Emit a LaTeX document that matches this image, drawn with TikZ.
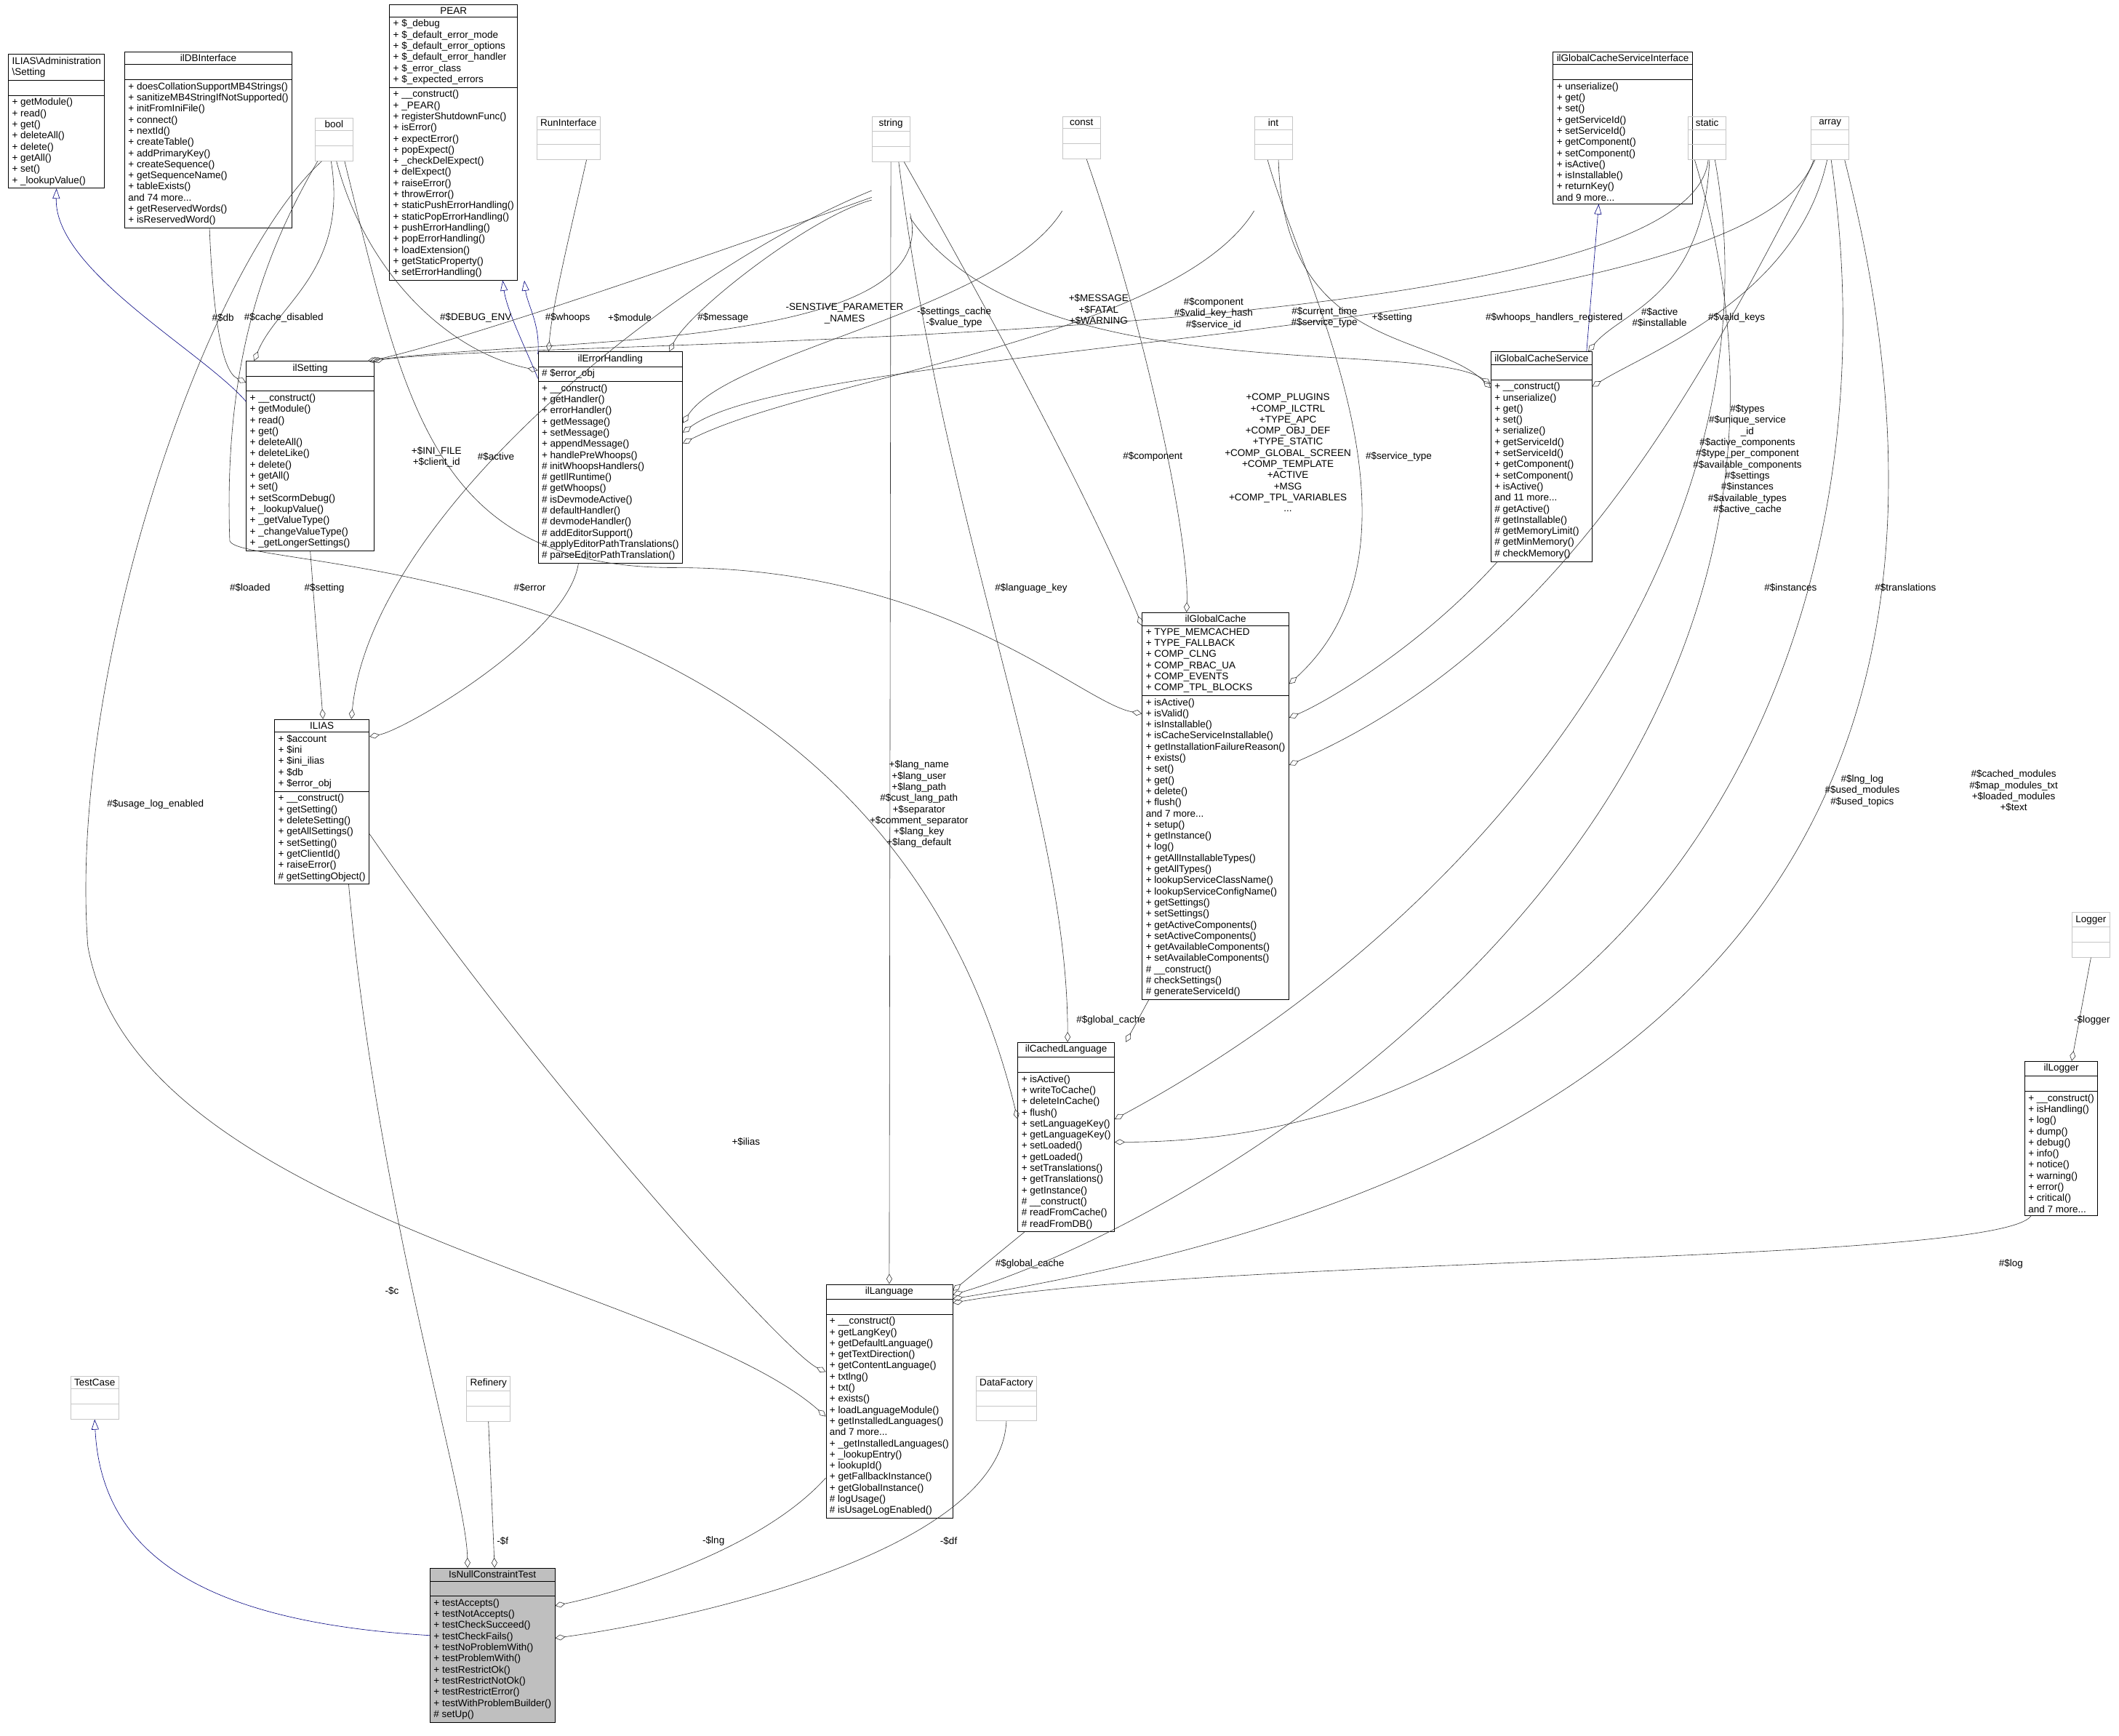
\documentclass[tikz,border=0pt]{standalone}
\usepackage{fontspec}
\setmainfont{Liberation Sans}
\usetikzlibrary{shapes.multipart,arrows.meta,calc}
\begin{document}
\begin{tikzpicture}[x=1.8584pt,y=-1.8584pt,
 cls/.style={draw=black,rectangle split,rectangle split parts=3,rectangle split part align={center,left,left},
   align=left,inner xsep=5pt,inner ysep=3.5pt,font=\fontsize{13.5}{15.3}\selectfont,anchor=north west,
   rectangle split empty part height=13pt,line width=0.8pt},
 gcls/.style={cls,draw=gray!45,minimum width=52pt},
 agg/.style={draw=black!80,line width=0.6pt,-{Diamond[open,length=14pt,width=8pt]}},
 inh/.style={draw=blue!50!black,line width=0.6pt,-{Triangle[open,length=14pt,width=10pt]}},
 lbl/.style={font=\fontsize{13.5}{15.3}\selectfont,align=center,inner sep=1pt}]
\useasboundingbox (0,0) rectangle (1568,1284.4);
\fill[white] (0,0) rectangle (1568,1284.4);
% ---- classes
\node[cls] (set) at (6,40) {ILIAS\textbackslash Administration\\\textbackslash Setting\nodepart{two}\nodepart{three}+ getModule()\\+ read()\\+ get()\\+ deleteAll()\\+ delete()\\+ getAll()\\+ set()\\+ \_lookupValue()};
\node[cls] (dbi) at (92,38) {ilDBInterface\nodepart{two}\nodepart{three}+ doesCollationSupportMB4Strings()\\+ sanitizeMB4StringIfNotSupported()\\+ initFromIniFile()\\+ connect()\\+ nextId()\\+ createTable()\\+ addPrimaryKey()\\+ createSequence()\\+ getSequenceName()\\+ tableExists()\\and 74 more...\\+ getReservedWords()\\+ isReservedWord()};
\node[gcls] (bool) at (233,87) {bool\nodepart{two}\nodepart{three}};
\node[cls] (pear) at (288,3) {PEAR\nodepart{two}+ \$\_debug\\+ \$\_default\_error\_mode\\+ \$\_default\_error\_options\\+ \$\_default\_error\_handler\\+ \$\_error\_class\\+ \$\_expected\_errors\nodepart{three}+ \_\_construct()\\+ \_PEAR()\\+ registerShutdownFunc()\\+ isError()\\+ expectError()\\+ popExpect()\\+ \_checkDelExpect()\\+ delExpect()\\+ raiseError()\\+ throwError()\\+ staticPushErrorHandling()\\+ staticPopErrorHandling()\\+ pushErrorHandling()\\+ popErrorHandling()\\+ loadExtension()\\+ getStaticProperty()\\+ setErrorHandling()};
\node[gcls] (run) at (397,86) {RunInterface\nodepart{two}\nodepart{three}};
\node[gcls] (str) at (645,86) {string\nodepart{two}\nodepart{three}};
\node[gcls] (cst) at (786,86) {const\nodepart{two}\nodepart{three}};
\node[gcls] (int) at (928,86) {int\nodepart{two}\nodepart{three}};
\node[cls] (gcsi) at (1149,38) {ilGlobalCacheServiceInterface\nodepart{two}\nodepart{three}+ unserialize()\\+ get()\\+ set()\\+ getServiceId()\\+ setServiceId()\\+ getComponent()\\+ setComponent()\\+ isActive()\\+ isInstallable()\\+ returnKey()\\and 9 more...};
\node[gcls] (stat) at (1249,86) {static\nodepart{two}\nodepart{three}};
\node[gcls] (arr) at (1340,86) {array\nodepart{two}\nodepart{three}};
\node[cls,minimum width=176pt] (ilset) at (182,267) {ilSetting\nodepart{two}\nodepart{three}+ \_\_construct()\\+ getModule()\\+ read()\\+ get()\\+ deleteAll()\\+ deleteLike()\\+ delete()\\+ getAll()\\+ set()\\+ setScormDebug()\\+ \_lookupValue()\\+ \_getValueType()\\+ \_changeValueType()\\+ \_getLongerSettings()};
\node[cls] (eh) at (398,260) {ilErrorHandling\nodepart{two}\# \$error\_obj\nodepart{three}+ \_\_construct()\\+ getHandler()\\+ errorHandler()\\+ getMessage()\\+ setMessage()\\+ appendMessage()\\+ handlePreWhoops()\\\# initWhoopsHandlers()\\\# getIlRuntime()\\\# getWhoops()\\\# isDevmodeActive()\\\# defaultHandler()\\\# devmodeHandler()\\\# addEditorSupport()\\\# applyEditorPathTranslations()\\\# parseEditorPathTranslation()};
\node[cls] (gcs) at (1103,260) {ilGlobalCacheService\nodepart{two}\nodepart{three}+ \_\_construct()\\+ unserialize()\\+ get()\\+ set()\\+ serialize()\\+ getServiceId()\\+ setServiceId()\\+ getComponent()\\+ setComponent()\\+ isActive()\\and 11 more...\\\# getActive()\\\# getInstallable()\\\# getMemoryLimit()\\\# getMinMemory()\\\# checkMemory()};
\node[cls] (gc) at (845,453) {ilGlobalCache\nodepart{two}+ TYPE\_MEMCACHED\\+ TYPE\_FALLBACK\\+ COMP\_CLNG\\+ COMP\_RBAC\_UA\\+ COMP\_EVENTS\\+ COMP\_TPL\_BLOCKS\nodepart{three}+ isActive()\\+ isValid()\\+ isInstallable()\\+ isCacheServiceInstallable()\\+ getInstallationFailureReason()\\+ exists()\\+ set()\\+ get()\\+ delete()\\+ flush()\\and 7 more...\\+ setup()\\+ getInstance()\\+ log()\\+ getAllInstallableTypes()\\+ getAllTypes()\\+ lookupServiceClassName()\\+ lookupServiceConfigName()\\+ getSettings()\\+ setSettings()\\+ getActiveComponents()\\+ setActiveComponents()\\+ getAvailableComponents()\\+ setAvailableComponents()\\\# \_\_construct()\\\# checkSettings()\\\# generateServiceId()};
\node[cls] (ilias) at (203,532) {ILIAS\nodepart{two}+ \$account\\+ \$ini\\+ \$ini\_ilias\\+ \$db\\+ \$error\_obj\nodepart{three}+ \_\_construct()\\+ getSetting()\\+ deleteSetting()\\+ getAllSettings()\\+ setSetting()\\+ getClientId()\\+ raiseError()\\\# getSettingObject()};
\node[cls] (cl) at (753,771) {ilCachedLanguage\nodepart{two}\nodepart{three}+ isActive()\\+ writeToCache()\\+ deleteInCache()\\+ flush()\\+ setLanguageKey()\\+ getLanguageKey()\\+ setLoaded()\\+ getLoaded()\\+ setTranslations()\\+ getTranslations()\\+ getInstance()\\\# \_\_construct()\\\# readFromCache()\\\# readFromDB()};
\node[gcls] (logger) at (1533,675) {Logger\nodepart{two}\nodepart{three}};
\node[cls] (logr) at (1498,785) {ilLogger\nodepart{two}\nodepart{three}+ \_\_construct()\\+ isHandling()\\+ log()\\+ dump()\\+ debug()\\+ info()\\+ notice()\\+ warning()\\+ error()\\+ critical()\\and 7 more...};
\node[cls] (lang) at (611,950) {ilLanguage\nodepart{two}\nodepart{three}+ \_\_construct()\\+ getLangKey()\\+ getDefaultLanguage()\\+ getTextDirection()\\+ getContentLanguage()\\+ txtlng()\\+ txt()\\+ exists()\\+ loadLanguageModule()\\+ getInstalledLanguages()\\and 7 more...\\+ \_getInstalledLanguages()\\+ \_lookupEntry()\\+ lookupId()\\+ getFallbackInstance()\\+ getGlobalInstance()\\\# logUsage()\\\# isUsageLogEnabled()};
\node[gcls] (tc) at (52,1018) {TestCase\nodepart{two}\nodepart{three}};
\node[gcls] (ref) at (345,1018) {Refinery\nodepart{two}\nodepart{three}};
\node[gcls] (df) at (722,1018) {DataFactory\nodepart{two}\nodepart{three}};
\node[cls,fill=gray!50] (test) at (318,1160) {IsNullConstraintTest\nodepart{two}\nodepart{three}+ testAccepts()\\+ testNotAccepts()\\+ testCheckSucceed()\\+ testCheckFails()\\+ testNoProblemWith()\\+ testProblemWith()\\+ testRestrictOk()\\+ testRestrictNotOk()\\+ testRestrictError()\\+ testWithProblemBuilder()\\\# setUp()};
% ---- inheritance
\draw[inh] ($(ilset.north west)+(0,30)$) .. controls (150,260) and (40,200) .. (set.south);
\draw[inh] ($(eh.north west)+(0,20)$) .. controls (390,260) and (375,230) .. ($(pear.south west)+(84,0)$);
\draw[inh] ($(eh.north west)+(0,2)$) .. controls (400,240) and (390,225) .. ($(pear.south west)+(100,0)$);
\draw[inh] ($(gcs.north west)+(71,0)$) -- ($(gcsi.south west)+(34,0)$);
\draw[inh] ($(test.north west)+(0,50)$) .. controls (150,1200) and (75,1150) .. (tc.south);
% ---- aggregation
\draw[agg] ($(bool.south west)+(12,0)$) .. controls (258,200) and (205,225) .. ($(ilset.north west)+(6,0)$);
\draw[agg] ($(dbi.south west)+(63,0)$) .. controls (158,240) and (165,275) .. ($(ilset.north west)+(0,16)$);
\draw[agg] ($(bool.south west)+(16,0)$) .. controls (270,200) and (330,260) .. ($(eh.north west)+(0,14)$);
\draw[agg] ($(run.south west)+(37,0)$) .. controls (420,180) and (408,230) .. ($(eh.north west)+(8,0)$);
\draw[agg] ($(str.north west)+(0,60)$) .. controls (550,180) and (350,250) .. ($(ilset.north east)+(-3,0)$);
\draw[agg] ($(str.north west)+(0,62)$) .. controls (600,160) and (510,230) .. ($(eh.north east)+(-10,0)$);
\draw[agg] ($(cst.north west)+(0,70)$) .. controls (740,230) and (540,260) .. ($(eh.north east)+(0,53)$);
\draw[agg] ($(str.north east)+(0,72)$) .. controls (700,260) and (400,250) .. ($(ilset.north east)+(-5,0)$);
\draw[agg] ($(int.north west)+(0,70)$) .. controls (870,250) and (600,280) .. ($(eh.north east)+(0,68)$);
\draw[agg] ($(str.north east)+(0,75)$) .. controls (760,290) and (1050,250) .. ($(gcs.north west)+(0,24)$);
\draw[agg] ($(int.south west)+(18,0)$) .. controls (950,260) and (1060,245) .. ($(gcs.north west)+(0,27)$);
\draw[agg] ($(stat.south west)+(15,0)$) .. controls (1250,260) and (400,250) .. ($(ilset.north east)+(-1,0)$);
\draw[agg] ($(arr.south west)+(2,0)$) .. controls (1300,250) and (600,250) .. ($(eh.north east)+(0,60)$);
\draw[agg] ($(stat.south west)+(16,0)$) .. controls (1260,220) and (1200,230) .. ($(gcs.north east)+(-3,0)$);
\draw[agg] ($(arr.south west)+(12,0)$) .. controls (1330,220) and (1220,260) .. ($(gcs.north east)+(0,26)$);
\draw[agg] ($(bool.south west)+(22,0)$) .. controls (300,300) and (320,420) .. (500,420) .. controls (700,420) and (800,520) .. ($(gc.north west)+(0,75)$);
\draw[agg] ($(cst.south west)+(18,0)$) .. controls (850,250) and (880,400) .. ($(gc.north west)+(33,0)$);
\draw[agg] ($(str.south west)+(24,0)$) .. controls (760,280) and (820,400) .. ($(gc.north west)+(0,10)$);
\draw[agg] ($(int.south west)+(10,0)$) .. controls (960,200) and (1070,400) .. ($(gc.north east)+(0,53)$);
\draw[agg] ($(gcs.south west)+(5,0)$) .. controls (1050,480) and (980,520) .. ($(gc.north east)+(0,78)$);
\draw[agg] ($(arr.south west)+(3,0)$) .. controls (1250,300) and (1150,480) .. ($(gc.north east)+(0,113)$);
\draw[agg] ($(gc.south west)+(5,0)$) -- ($(cl.north west)+(80,0)$);
\draw[agg] ($(str.south west)+(20,0)$) .. controls (700,400) and (790,600) .. ($(cl.north west)+(37,0)$);
\draw[agg] ($(bool.south west)+(2,0)$) .. controls (200,180) and (165,260) .. (170,400) .. controls (175,425) and (650,400) .. ($(cl.north west)+(0,57)$);
\draw[agg] ($(stat.south west)+(20,0)$) .. controls (1320,400) and (1100,680) .. ($(cl.north east)+(0,57)$);
\draw[agg] ($(arr.south west)+(15,0)$) .. controls (1410,500) and (1200,845) .. ($(cl.north east)+(0,74)$);
\draw[agg] (ilset.south) -- ($(ilias.north west)+(36,0)$);
\draw[agg] ($(eh.south west)+(30,0)$) .. controls (420,470) and (300,540) .. ($(ilias.north east)+(0,13)$);
\draw[agg] ($(str.north west)+(0,55)$) .. controls (500,200) and (275,380) .. ($(ilias.north west)+(57,0)$);
\draw[agg] ($(ilias.north east)+(0,85)$) .. controls (400,800) and (580,1000) .. ($(lang.north west)+(0,65)$);
\draw[agg] ($(bool.south west)+(5,0)$) .. controls (150,200) and (50,500) .. (65,700) .. controls (100,900) and (500,950) .. ($(lang.north west)+(0,98)$);
\draw[agg] (str.south) -- (lang.north);
\draw[agg] ($(cl.south west)+(5,0)$) -- ($(lang.north east)+(0,5)$);
\draw[agg] ($(stat.south west)+(5,0)$) .. controls (1400,600) and (900,900) .. ($(lang.north east)+(0,8)$);
\draw[agg] ($(arr.south west)+(25,0)$) .. controls (1500,650) and (1200,880) .. ($(lang.north east)+(0,11)$);
\draw[agg] ($(logr.south west)+(5,0)$) .. controls (1480,935) and (900,930) .. ($(lang.north east)+(0,14)$);
\draw[agg] (logger.south) -- ($(logr.north west)+(35,0)$);
\draw[agg] ($(ilias.south west)+(55,0)$) .. controls (280,900) and (345,1100) .. ($(test.north west)+(28,0)$);
\draw[agg] (ref.south) -- ($(test.north west)+(48,0)$);
\draw[agg] ($(lang.south west)+(0,-30)$) .. controls (560,1150) and (450,1180) .. ($(test.north east)+(0,28)$);
\draw[agg] (df.south) .. controls (740,1150) and (500,1200) .. ($(test.north east)+(0,52)$);
% ---- labels
\node[lbl] (l1) at (165,235) {\#\$db};
\node[lbl] (l2) at (210,235) {\#\$cache\_disabled};
\node[lbl] (l3) at (352,235) {\#\$DEBUG\_ENV};
\node[lbl] (l4) at (420,235) {\#\$whoops};
\node[lbl] (l5) at (466,235) {+\$module};
\node[lbl] (l6) at (535,235) {\#\$message};
\node[lbl] (l7) at (625,232) {-SENSTIVE\_PARAMETER\\\_NAMES};
\node[lbl] (l8) at (706,235) {-\$settings\_cache\\-\$value\_type};
\node[lbl] (l9) at (813,229) {+\$MESSAGE\\+\$FATAL\\+\$WARNING};
\node[lbl] (l10) at (898,232) {\#\$component\\\#\$valid\_key\_hash\\\#\$service\_id};
\node[lbl] (l11) at (980,235) {\#\$current\_time\\\#\$service\_type};
\node[lbl] (l12) at (1030,235) {+\$setting};
\node[lbl] (l13) at (1150,235) {\#\$whoops\_handlers\_registered};
\node[lbl] (l14) at (1228,235) {\#\$active\\\#\$installable};
\node[lbl] (l15) at (1285,235) {\#\$valid\_keys};
\node[lbl] (l16) at (953,335) {+COMP\_PLUGINS\\+COMP\_ILCTRL\\+TYPE\_APC\\+COMP\_OBJ\_DEF\\+TYPE\_STATIC\\+COMP\_GLOBAL\_SCREEN\\+COMP\_TEMPLATE\\+ACTIVE\\+MSG\\+COMP\_TPL\_VARIABLES\\...};
\node[lbl] (l17) at (853,338) {\#\$component};
\node[lbl] (l18) at (1035,338) {\#\$service\_type};
\node[lbl] (l19) at (1293,340) {\#\$types\\\#\$unique\_service\\\_id\\\#\$active\_components\\\#\$type\_per\_component\\\#\$available\_components\\\#\$settings\\\#\$instances\\\#\$available\_types\\\#\$active\_cache};
\node[lbl] (l20) at (1325,435) {\#\$instances};
\node[lbl] (l21) at (1410,435) {\#\$translations};
\node[lbl] (l22) at (323,338) {+\$INI\_FILE\\+\$client\_id};
\node[lbl] (l23) at (367,338) {\#\$active};
\node[lbl] (l24) at (185,435) {\#\$loaded};
\node[lbl] (l25) at (240,435) {\#\$setting};
\node[lbl] (l26) at (392,435) {\#\$error};
\node[lbl] (l27) at (763,435) {\#\$language\_key};
\node[lbl] (l28) at (822,755) {\#\$global\_cache};
\node[lbl] (l29) at (680,595) {+\$lang\_name\\+\$lang\_user\\+\$lang\_path\\\#\$cust\_lang\_path\\+\$separator\\+\$comment\_separator\\+\$lang\_key\\+\$lang\_default};
\node[lbl] (l30) at (1378,585) {\#\$lng\_log\\\#\$used\_modules\\\#\$used\_topics};
\node[lbl] (l31) at (1490,585) {\#\$cached\_modules\\\#\$map\_modules\_txt\\+\$loaded\_modules\\+\$text};
\node[lbl] (l32) at (1548,755) {-\$logger};
\node[lbl] (l33) at (115,595) {\#\$usage\_log\_enabled};
\node[lbl] (l34) at (552,845) {+\$ilias};
\node[lbl] (l35) at (762,935) {\#\$global\_cache};
\node[lbl] (l36) at (1488,935) {\#\$log};
\node[lbl] (l37) at (290,955) {-\$c};
\node[lbl] (l38) at (372,1140) {-\$f};
\node[lbl] (l39) at (528,1140) {-\$lng};
\node[lbl] (l40) at (702,1140) {-\$df};
\end{tikzpicture}
\end{document}
